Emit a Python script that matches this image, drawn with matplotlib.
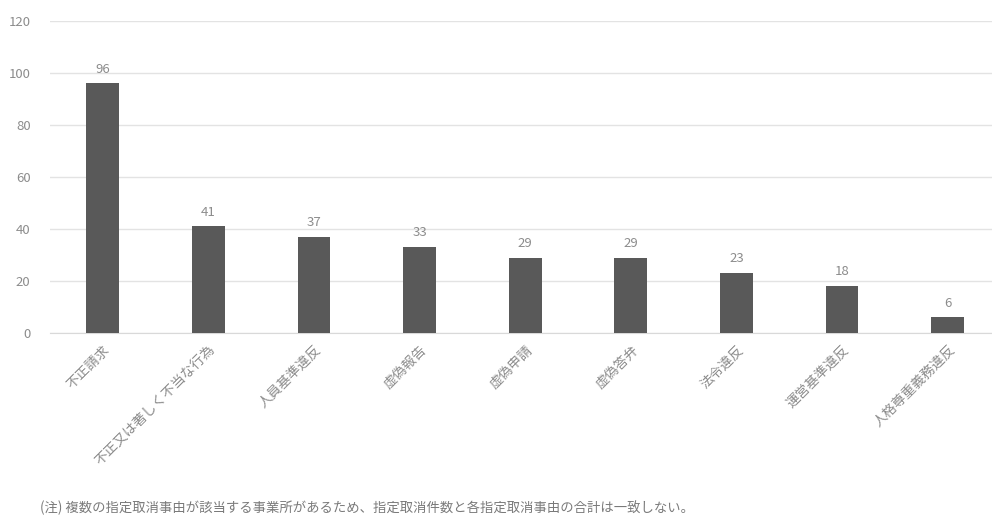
import matplotlib.pyplot as plt

plt.rcParams['font.family'] = ['Noto Sans CJK JP', 'DejaVu Sans']

# 指定取消事由ごとの件数
reasons = ['不正請求', '不正又は著しく不当な行為', '人員基準違反', '虚偽報告', '虚偽申請',
           '虚偽答弁', '法令違反', '運営基準違反', '人格尊重義務違反']
counts = [96, 41, 37, 33, 29, 29, 23, 18, 6]
yticks = [0, 20, 40, 60, 80, 100, 120]
note = '(注) 複数の指定取消事由が該当する事業所があるため、指定取消件数と各指定取消事由の合計は一致しない。'

text_color = '#8c8c8c'
bar_color = '#595959'

fig = plt.figure(figsize=(9.92, 5.23), dpi=100)
ax = fig.add_axes([50 / 992, 1 - 333 / 523, 1 - 50 / 992, (333 - 21) / 523])

x = range(len(reasons))
bars = ax.bar(x, counts, width=0.31, color=bar_color, zorder=3)
for b, v in zip(bars, counts):
    ax.text(b.get_x() + b.get_width() / 2, v + 3, str(v), ha='center', va='bottom',
            fontsize=9.5, color=text_color)

ax.set_ylim(0, 120)
ax.set_xlim(-0.5, 8.42)
ax.set_yticks(yticks)
ax.set_yticklabels([str(t) for t in yticks], fontsize=9.5, color=text_color)
ax.yaxis.grid(True, color='#e3e3e3', linewidth=1, zorder=0)
ax.set_xticks(list(x))
ax.set_xticklabels(reasons, rotation=45, ha='right', rotation_mode='anchor',
                   fontsize=9.8, color=text_color)
ax.tick_params(axis='both', length=0)
ax.tick_params(axis='x', pad=7)
ax.tick_params(axis='y', pad=14)
for s in ['top', 'right', 'left']:
    ax.spines[s].set_visible(False)
ax.spines['bottom'].set_color('#d9d9d9')

fig.text(40 / 992, 1 - 508 / 523, note, fontsize=9.6, color='#7a7a7a', va='center')

fig.savefig('out.png', dpi=100)
